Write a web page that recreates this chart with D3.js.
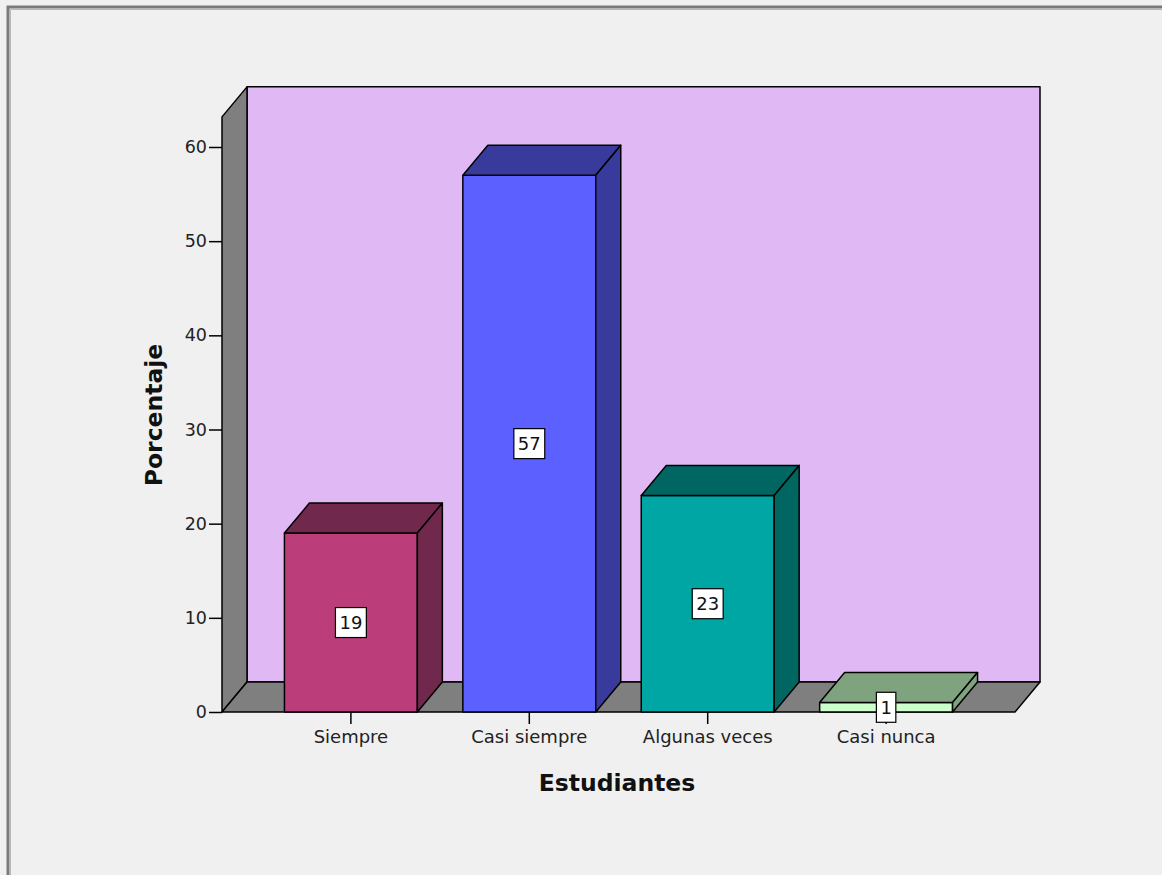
<!DOCTYPE html>
<html>
<head>
<meta charset="utf-8">
<script src="https://cdn.jsdelivr.net/npm/d3@7"></script>
<style>
  body { margin: 0; background: #f0f0f0; }
  svg { display: block; font-family: "DejaVu Sans", sans-serif; }
</style>
</head>
<body>
<div id="chart"></div>
<script>
// data
const categories = ["Siempre", "Casi siempre", "Algunas veces", "Casi nunca"];
const values = [19, 57, 23, 1];
const yTicks = [0, 10, 20, 30, 40, 50, 60];
const frontColors = ["#bb3e7b", "#5b60fe", "#00a6a3", "#ccffcc"];
const darkColors = ["#70284d", "#383a9c", "#006661", "#7fa37f"];

const W = 1162, H = 875;
const depth = { dx: 25, dy: 30 };
const left = 222, right = 1015;
const font = "'DejaVu Sans', sans-serif";

const svg = d3.select("#chart").append("svg")
    .attr("width", W)
    .attr("height", H);

svg.append("rect").attr("width", W).attr("height", H).attr("fill", "#f0f0f0");

// window frame
svg.append("path").attr("d", `M8,${H} V7 H${W}`)
    .attr("fill", "none").attr("stroke", "#7a7a7a").attr("stroke-width", 3);
svg.append("path").attr("d", `M10.5,${H} V9.5 H${W}`)
    .attr("fill", "none").attr("stroke", "#b8b8b8").attr("stroke-width", 1);

const y = d3.scaleLinear().domain([0, 60]).range([712, 147]);
const yTop = y(63.2);
const x = d3.scaleBand().domain(categories).range([left, right])
    .paddingInner(0.255).paddingOuter(0.35);

const y0 = y(0);
const wall = svg.append("g").attr("stroke", "#000").attr("stroke-width", 1.5).attr("stroke-linejoin", "round");

// back wall
wall.append("rect")
    .attr("x", left + depth.dx).attr("y", yTop - depth.dy)
    .attr("width", right - left).attr("height", y0 - yTop)
    .attr("fill", "#e0b8f3");
// left wall
wall.append("polygon")
    .attr("points", [[left, yTop], [left + depth.dx, yTop - depth.dy], [left + depth.dx, y0 - depth.dy], [left, y0]].join(" "))
    .attr("fill", "#7f7f7f");
// floor
wall.append("polygon")
    .attr("points", [[left, y0], [left + depth.dx, y0 - depth.dy], [right + depth.dx, y0 - depth.dy], [right, y0]].join(" "))
    .attr("fill", "#7f7f7f");

// bars
const bars = svg.append("g").selectAll("g").data(values).enter().append("g")
    .attr("stroke", "#000").attr("stroke-width", 1.5).attr("stroke-linejoin", "round");

bars.each(function(d, i) {
    const g = d3.select(this);
    const xb = x(categories[i]), bw = x.bandwidth(), yv = y(d);
    g.append("rect").attr("x", xb).attr("y", yv).attr("width", bw).attr("height", y0 - yv)
        .attr("fill", frontColors[i]);
    g.append("polygon")
        .attr("points", [[xb, yv], [xb + depth.dx, yv - depth.dy], [xb + bw + depth.dx, yv - depth.dy], [xb + bw, yv]].join(" "))
        .attr("fill", darkColors[i]);
    g.append("polygon")
        .attr("points", [[xb + bw, yv], [xb + bw + depth.dx, yv - depth.dy], [xb + bw + depth.dx, y0 - depth.dy], [xb + bw, y0]].join(" "))
        .attr("fill", darkColors[i]);
});

// y axis
const yAxis = svg.append("g").attr("transform", `translate(${left},0)`)
    .call(d3.axisLeft(y).tickValues(yTicks).tickSize(13).tickSizeOuter(0).tickPadding(2));
yAxis.select(".domain").remove();
yAxis.selectAll("line").attr("stroke", "#000").attr("stroke-width", 1.5);
yAxis.selectAll("text").attr("font-size", 17.5).attr("fill", "#222").attr("font-family", font);

// x axis
const xAxis = svg.append("g").attr("transform", `translate(0,${y0})`)
    .call(d3.axisBottom(x).tickSize(12).tickSizeOuter(0).tickPadding(6));
xAxis.select(".domain").remove();
xAxis.selectAll("line").attr("stroke", "#000").attr("stroke-width", 1.5);
xAxis.selectAll("text").attr("font-size", 18).attr("fill", "#222").attr("font-family", font);

// value labels (on top of the ticks)
const labels = svg.append("g").selectAll("g").data(values).enter().append("g")
    .attr("transform", (d, i) => `translate(${x(categories[i]) + x.bandwidth() / 2},${y(d / 2)})`);
labels.append("text")
    .attr("text-anchor", "middle").attr("dy", "0.36em")
    .attr("font-size", 18).attr("fill", "#111")
    .text(d => d);
labels.each(function() {
    const g = d3.select(this);
    const bb = g.select("text").node().getBBox();
    g.insert("rect", "text")
        .attr("x", bb.x - 4).attr("y", -15)
        .attr("width", bb.width + 8).attr("height", 30)
        .attr("fill", "#fff").attr("stroke", "#000").attr("stroke-width", 1.2);
});

// axis titles
svg.append("text")
    .attr("transform", "translate(162,415) rotate(-90)")
    .attr("text-anchor", "middle")
    .attr("font-size", 23.5).attr("font-weight", "bold").attr("fill", "#111")
    .text("Porcentaje");
svg.append("text")
    .attr("x", 617).attr("y", 791)
    .attr("text-anchor", "middle")
    .attr("font-size", 23.5).attr("font-weight", "bold").attr("fill", "#111")
    .text("Estudiantes");
</script>
</body>
</html>
